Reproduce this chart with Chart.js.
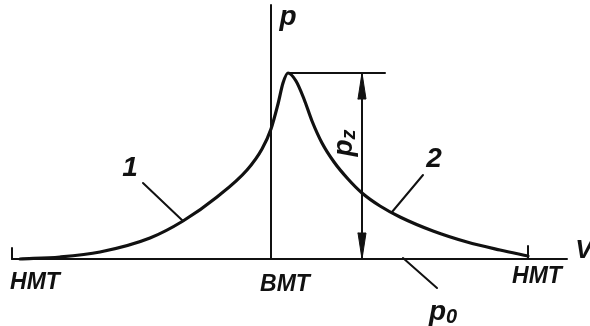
<!DOCTYPE html>
<html>
<head>
<meta charset="utf-8">
<script src="https://cdn.jsdelivr.net/npm/chart.js@4/dist/chart.umd.min.js"></script>
<style>
  html, body { margin: 0; padding: 0; background: #fff; }
  canvas { display: block; }
</style>
</head>
<body>
<canvas id="pv" width="590" height="326"></canvas>
<script>
// p-V diagram: compression (1) and expansion (2) near top dead centre
const compVolume   = [20, 60, 100, 150, 183, 217, 247, 262, 271, 278, 283, 288];
const compPressure = [0, 2, 7, 21, 38, 62, 89, 110, 130, 155, 176, 186];
const expVolume    = [288, 296, 304, 312, 322, 334, 348, 362, 380, 400, 433, 467, 500, 528];
const expPressure  = [186, 178, 160, 138, 116, 97, 80, 66, 53, 42, 28, 17, 9, 3];

const pz = 186;          // peak pressure
const vBMT = 271;        // top dead centre
const vHMTleft = 12;     // bottom dead centre, left stroke
const vHMTright = 528;   // bottom dead centre, right stroke
const vAxisEnd = 567;
const pAxisEnd = 254;
const vArrow = 362;
const vTopLineEnd = 385;

const ink = '#111';

function seg(x1, y1, x2, y2) {
    return [{x: x1, y: y1}, {x: x2, y: y2}];
}

function lineSet(data, width) {
    return {
        data: data,
        borderColor: ink,
        borderWidth: width,
        pointRadius: 0,
        tension: 0,
        fill: false
    };
}

// arrow heads on the pz dimension line
const headLen = 26, headHalf = 4;
function head(tipY, dir) {
    return {
        data: [
            {x: vArrow - headHalf, y: tipY - dir * headLen},
            {x: vArrow, y: tipY},
            {x: vArrow + headHalf, y: tipY - dir * headLen},
            {x: vArrow - headHalf, y: tipY - dir * headLen}
        ],
        borderColor: ink,
        backgroundColor: ink,
        borderWidth: 1,
        pointRadius: 0,
        fill: 'shape'
    };
}

// one continuous cycle line: compression up to the peak, then expansion
const cycle = compVolume.map((v, i) => ({x: v, y: compPressure[i]}))
    .concat(expVolume.slice(1).map((v, i) => ({x: v, y: expPressure[i + 1]})));

// text labels, placed in diagram units
const labels = [
    {text: 'p', x: 288, y: 242, size: 28},
    {text: 'V', x: 584, y: 8, size: 26},
    {text: 'HMT', x: 35, y: -24, size: 23},
    {text: 'BMT', x: 285, y: -26, size: 23},
    {text: 'HMT', x: 537, y: -18, size: 23},
    {text: '1', x: 130, y: 91, size: 28},
    {text: '2', x: 434, y: 100, size: 28},
    {text: 'p', sub: '0', x: 443, y: -53, size: 28},
    {text: 'p', sub: 'z', x: 344, y: 116, size: 28, rotate: -Math.PI / 2}
];

const textPlugin = {
    id: 'diagramText',
    afterDatasetsDraw(chart) {
        const ctx = chart.ctx;
        const sx = chart.scales.x, sy = chart.scales.y;
        ctx.save();
        ctx.fillStyle = ink;
        ctx.textBaseline = 'middle';
        labels.forEach(l => {
            ctx.save();
            ctx.translate(sx.getPixelForValue(l.x), sy.getPixelForValue(l.y));
            if (l.rotate) ctx.rotate(l.rotate);
            const mainFont = 'italic bold ' + l.size + 'px "Liberation Sans"';
            const subFont = 'italic bold ' + Math.round(l.size * 0.7) + 'px "Liberation Sans"';
            ctx.font = mainFont;
            const w = ctx.measureText(l.text).width;
            let subW = 0;
            if (l.sub) {
                ctx.font = subFont;
                subW = ctx.measureText(l.sub).width;
                ctx.font = mainFont;
            }
            const x0 = -(w + subW) / 2;
            ctx.textAlign = 'left';
            ctx.fillText(l.text, x0, 0);
            if (l.sub) {
                ctx.font = subFont;
                ctx.fillText(l.sub, x0 + w, l.size * 0.2);
            }
            ctx.restore();
        });
        ctx.restore();
    }
};

new Chart(document.getElementById('pv'), {
    type: 'line',
    data: {
        datasets: [
            lineSet(seg(vHMTleft, 0, vAxisEnd, 0), 2),                 // V axis
            lineSet(seg(vBMT, 0, vBMT, pAxisEnd), 2),                 // p axis
            lineSet(seg(vHMTleft, 0, vHMTleft, 11), 2),               // HMT tick
            lineSet(seg(vHMTright, 0, vHMTright, 13), 2),             // HMT tick
            lineSet(seg(compVolume[compVolume.length - 1], pz, vTopLineEnd, pz), 2),
            lineSet(seg(vArrow, 0, vArrow, pz), 2),                   // pz dimension
            head(pz, 1),
            head(0, -1),
            Object.assign(lineSet(cycle, 3.2), {cubicInterpolationMode: 'monotone'}),
            lineSet(seg(143, 76, 183, 38), 2),                        // leader 1
            lineSet(seg(423, 84, 392, 47), 2),                        // leader 2
            lineSet(seg(403, 1, 437, -29), 2)                         // leader p0
        ]
    },
    options: {
        responsive: false,
        animation: false,
        devicePixelRatio: 1,
        layout: {padding: 0},
        parsing: false,
        plugins: {legend: {display: false}, tooltip: {enabled: false}},
        scales: {
            x: {type: 'linear', min: 0, max: 590, display: false},
            y: {type: 'linear', min: -67, max: 259, display: false}
        },
        elements: {line: {borderCapStyle: 'round'}}
    },
    plugins: [textPlugin]
});
</script>
</body>
</html>
